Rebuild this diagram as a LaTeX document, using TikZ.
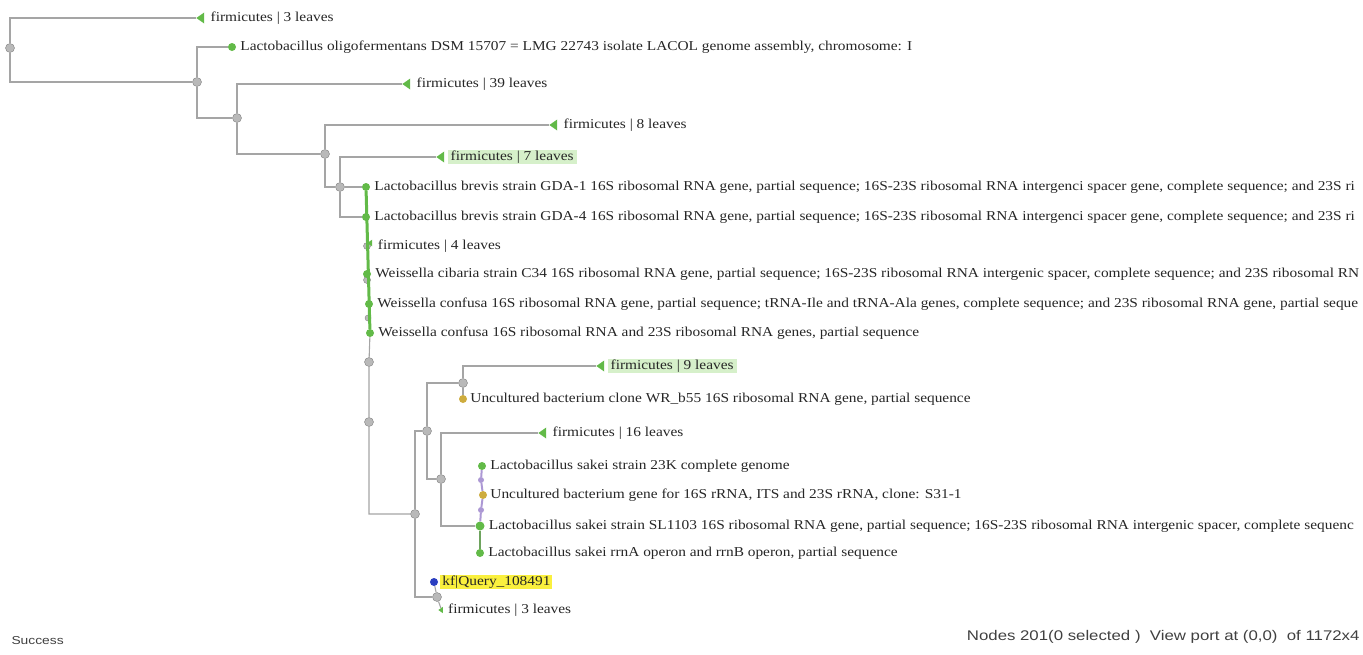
\documentclass[tikz,border=0pt]{standalone}
\usepackage{fontspec}
\setmainfont[FakeStretch=1.13]{Liberation Serif}
\newfontfamily\statusfont[FakeStretch=1.2]{Liberation Sans}
\usetikzlibrary{shapes, arrows.meta, positioning, calc}
\definecolor{leafgreen}{RGB}{98,186,72}
\definecolor{edgegray}{RGB}{165,165,165}
\definecolor{nodegray}{RGB}{185,185,185}
\definecolor{olivedot}{RGB}{206,172,62}
\definecolor{queryblue}{RGB}{42,62,192}
\definecolor{lavender}{RGB}{172,152,212}
\definecolor{hlgreen}{RGB}{214,240,202}
\definecolor{hlyellow}{RGB}{250,240,62}

\begin{document}
\begin{tikzpicture}[x=1pt, y=-1pt, every node/.style={font=\fontsize{13.6}{15}\selectfont},
  edge/.style={draw=edgegray, line width=1.1pt},
  inner/.style={circle, draw=gray, fill=nodegray, minimum size=9pt, inner sep=0pt},
  leaf/.style={circle, fill=leafgreen, minimum size=8pt, inner sep=0pt},
  collapsed/.style={isosceles triangle, shape border rotate=180, isosceles triangle apex angle=70, fill=leafgreen, inner sep=2.3pt},
  lbl/.style={anchor=west, inner sep=1pt, text=black!85}]

\useasboundingbox (0,0) rectangle (1363,654);
\clip (0,0) rectangle (1363,654);

% Internal nodes of the tree
\foreach \name/\x/\y in {root/10/48, n1/197/82, n2/237/118, n3/325/154, n4/340/187,
  n8/369/362, n9/369/422, n10/415/514, n11/427/431, n12/463/383, n13/441/479, n14/437/597} {
  \node[inner] (\name) at (\x,\y) {};
}

% Collapsed clades
\foreach \name/\x/\y/\k/\bg in {cA/196/18/3/white, cB/402/84/39/white, cC/549/125/8/white,
  cD/436/157/7/hlgreen, cE/596/366/9/hlgreen, cF/538/433/16/white} {
  \node[collapsed, anchor=apex] (\name) at (\x,\y) {};
  \node[lbl, fill=\bg, inner xsep=3pt, right=3pt of \name] (\name-t) {firmicutes | \k\ leaves};
}

% Leaves
\node[leaf] (oligo) at (232,47) {};
\node[lbl, right=3pt of oligo] (oligo-t) {Lactobacillus oligofermentans DSM 15707 = LMG 22743 isolate LACOL genome assembly, chromosome: I};

% Green column of overlapping leaves
\node[inner, minimum size=7pt] (n5) at (367,246) {};
\node[collapsed, inner sep=1.4pt, anchor=apex] (c4) at (367,243) {};
\node[lbl, right=6pt of n5] (c4-t) {firmicutes | 4 leaves};
\node[inner, minimum size=7pt] (n6) at (367,280) {};
\node[inner, minimum size=6pt] (n7) at (368,318) {};
\foreach \name/\x/\y/\txt in {
  gdaA/366/187/{Lactobacillus brevis strain GDA-1 16S ribosomal RNA gene, partial sequence; 16S-23S ribosomal RNA intergenci spacer gene, complete sequence; and 23S ri},
  gdaB/366/217/{Lactobacillus brevis strain GDA-4 16S ribosomal RNA gene, partial sequence; 16S-23S ribosomal RNA intergenci spacer gene, complete sequence; and 23S ri},
  wcib/367/274/{Weissella cibaria strain C34 16S ribosomal RNA gene, partial sequence; 16S-23S ribosomal RNA intergenic spacer, complete sequence; and 23S ribosomal RN},
  wconA/369/304/{Weissella confusa 16S ribosomal RNA gene, partial sequence; tRNA-Ile and tRNA-Ala genes, complete sequence; and 23S ribosomal RNA gene, partial seque},
  wconB/370/333/{Weissella confusa 16S ribosomal RNA and 23S ribosomal RNA genes, partial sequence}} {
  \node[leaf] (\name) at (\x,\y) {};
  \node[lbl, right=3pt of \name] (\name-t) {\txt};
}

% Lower clades
\node[leaf, fill=olivedot] (wrb) at (463,399) {};
\node[lbl, right=2pt of wrb] (wrb-t) {Uncultured bacterium clone WR\_b55 16S ribosomal RNA gene, partial sequence};
\node[leaf] (sk23) at (482,466) {};
\node[circle, fill=lavender, minimum size=6pt, inner sep=0pt] (p1) at (481,480) {};
\node[leaf, fill=olivedot] (unc) at (483,495) {};
\node[circle, fill=lavender, minimum size=6pt, inner sep=0pt] (p2) at (481,510) {};
\node[leaf, minimum size=9pt] (sl) at (480,526) {};
\node[leaf] (rrn) at (480,553) {};
\node[lbl, right=3pt of sk23] (sk23-t) {Lactobacillus sakei strain 23K complete genome};
\node[lbl, right=2pt of unc] (unc-t) {Uncultured bacterium gene for 16S rRNA, ITS and 23S rRNA, clone: S31-1};
\node[lbl, right=3pt of sl] (sl-t) {Lactobacillus sakei strain SL1103 16S ribosomal RNA gene, partial sequence; 16S-23S ribosomal RNA intergenic spacer, complete sequenc};
\node[lbl, right=3pt of rrn] (rrn-t) {Lactobacillus sakei rrnA operon and rrnB operon, partial sequence};
\node[leaf, fill=queryblue] (query) at (434,582) {};
\node[lbl, fill=hlyellow, inner xsep=2pt, right=2pt of query] (query-t) {kf|Query\_108491};
\node[collapsed, inner sep=1.3pt, anchor=apex] (cG) at (438,610) {};
\node[lbl, right=4pt of cG] (cG-t) {firmicutes | 3 leaves};

% Branches
\draw[edge] (root) |- (cA);
\draw[edge] (root) |- (n1);
\draw[edge] (n1) |- (oligo);
\draw[edge] (n1) |- (n2);
\draw[edge] (n2) |- (cB);
\draw[edge] (n2) |- (n3);
\draw[edge] (n3) |- (cC);
\draw[edge] (n3) |- (n4);
\draw[edge] (n4) |- (cD);
\draw[edge] (n4) -- (gdaA);
\draw[edge] (n4) |- (gdaB);
\draw[leafgreen, line width=3pt] (gdaA) -- (wconB);
\draw[edge] (wconB) -- (n8) -- (n9) |- (n10);
\draw[edge] (n10) |- (n11);
\draw[edge] (n10) |- (n14);
\draw[edge] (n11) |- (n12);
\draw[edge] (n11) |- (n13);
\draw[edge] (n12) |- (cE);
\draw[edge] (n12) -- (wrb);
\draw[edge] (n13) |- (cF);
\draw[edge] (n13) |- (sl);
\draw[lavender, line width=2pt] (sk23) -- (p1) -- (unc) -- (p2) -- (sl);
\draw[leafgreen!60!gray, line width=2pt] (sl) -- (rrn);
\draw[edge] (n14) -- (query);
\draw[edge] (n14) -- (cG);

% Status bar
\node[anchor=west, font=\statusfont\fontsize{11.5}{13}\selectfont, text=black!75] (status) at (8,641) {Success};
\node[anchor=east, font=\statusfont\fontsize{14}{16}\selectfont, text=black!75] (viewport) at (1363,637) {Nodes 201(0 selected )\ \ View port at (0,0)\ \ of 1172x4};
\end{tikzpicture}
\end{document}
